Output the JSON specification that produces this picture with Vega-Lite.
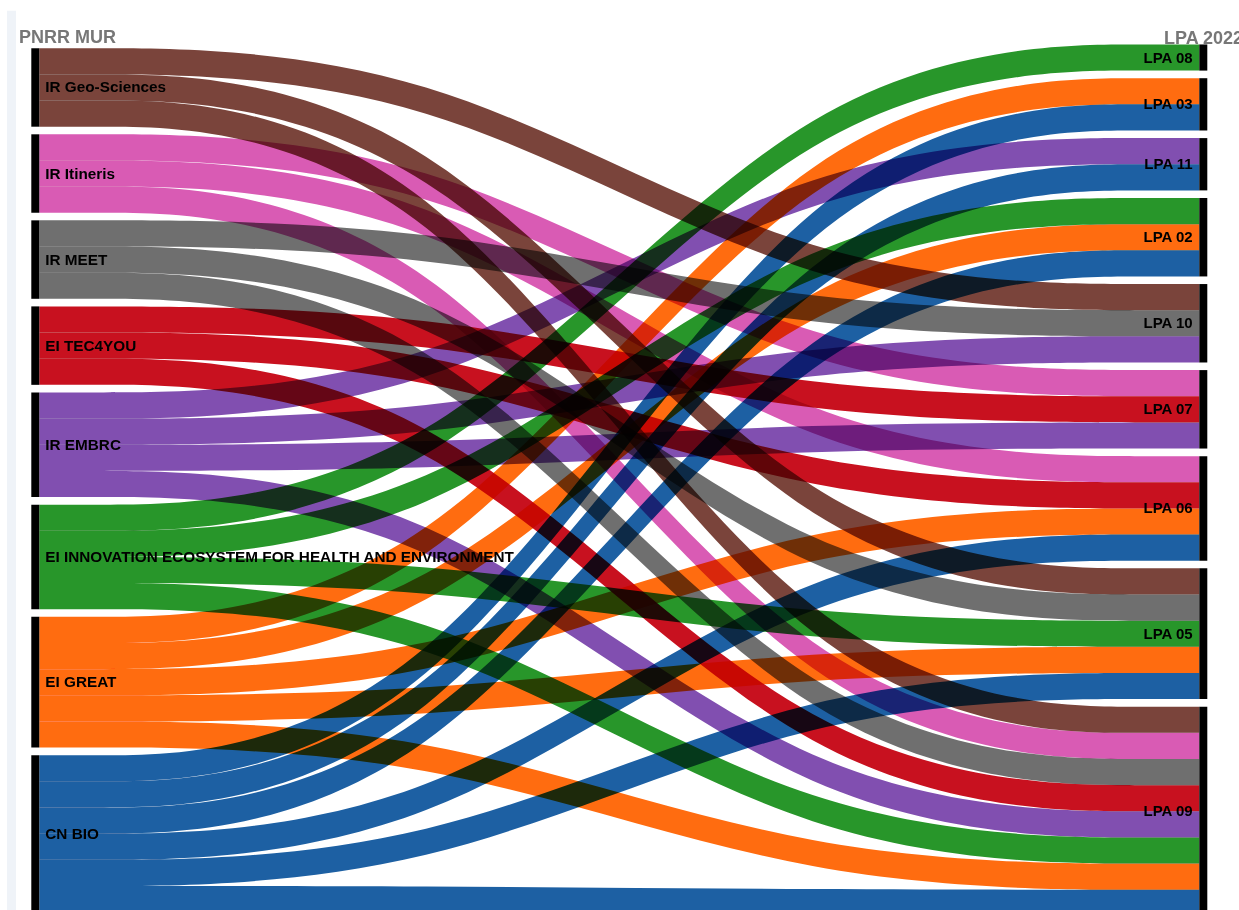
{
  "$schema": "https://vega.github.io/schema/vega-lite/v6.json",
  "width": 1239,
  "height": 910,
  "autosize": "none",
  "padding": 0,
  "background": "white",
  "config": {"view": {"stroke": null}, "font": "Liberation Sans"},
  "data": {
    "values": [
      {"source": "IR Geo-Sciences", "target": "LPA 10", "si": 0, "ti": 4, "value": 1},
      {"source": "IR Geo-Sciences", "target": "LPA 05", "si": 0, "ti": 7, "value": 1},
      {"source": "IR Geo-Sciences", "target": "LPA 09", "si": 0, "ti": 8, "value": 1},
      {"source": "IR Itineris", "target": "LPA 07", "si": 1, "ti": 5, "value": 1},
      {"source": "IR Itineris", "target": "LPA 06", "si": 1, "ti": 6, "value": 1},
      {"source": "IR Itineris", "target": "LPA 09", "si": 1, "ti": 8, "value": 1},
      {"source": "IR MEET", "target": "LPA 10", "si": 2, "ti": 4, "value": 1},
      {"source": "IR MEET", "target": "LPA 05", "si": 2, "ti": 7, "value": 1},
      {"source": "IR MEET", "target": "LPA 09", "si": 2, "ti": 8, "value": 1},
      {"source": "EI TEC4YOU", "target": "LPA 07", "si": 3, "ti": 5, "value": 1},
      {"source": "EI TEC4YOU", "target": "LPA 06", "si": 3, "ti": 6, "value": 1},
      {"source": "EI TEC4YOU", "target": "LPA 09", "si": 3, "ti": 8, "value": 1},
      {"source": "IR EMBRC", "target": "LPA 11", "si": 4, "ti": 2, "value": 1},
      {"source": "IR EMBRC", "target": "LPA 10", "si": 4, "ti": 4, "value": 1},
      {"source": "IR EMBRC", "target": "LPA 07", "si": 4, "ti": 5, "value": 1},
      {"source": "IR EMBRC", "target": "LPA 09", "si": 4, "ti": 8, "value": 1},
      {"source": "EI INNOVATION ECOSYSTEM FOR HEALTH AND ENVIRONMENT", "target": "LPA 08", "si": 5, "ti": 0, "value": 1},
      {"source": "EI INNOVATION ECOSYSTEM FOR HEALTH AND ENVIRONMENT", "target": "LPA 02", "si": 5, "ti": 3, "value": 1},
      {"source": "EI INNOVATION ECOSYSTEM FOR HEALTH AND ENVIRONMENT", "target": "LPA 05", "si": 5, "ti": 7, "value": 1},
      {"source": "EI INNOVATION ECOSYSTEM FOR HEALTH AND ENVIRONMENT", "target": "LPA 09", "si": 5, "ti": 8, "value": 1},
      {"source": "EI GREAT", "target": "LPA 03", "si": 6, "ti": 1, "value": 1},
      {"source": "EI GREAT", "target": "LPA 02", "si": 6, "ti": 3, "value": 1},
      {"source": "EI GREAT", "target": "LPA 06", "si": 6, "ti": 6, "value": 1},
      {"source": "EI GREAT", "target": "LPA 05", "si": 6, "ti": 7, "value": 1},
      {"source": "EI GREAT", "target": "LPA 09", "si": 6, "ti": 8, "value": 1},
      {"source": "CN BIO", "target": "LPA 03", "si": 7, "ti": 1, "value": 1},
      {"source": "CN BIO", "target": "LPA 11", "si": 7, "ti": 2, "value": 1},
      {"source": "CN BIO", "target": "LPA 02", "si": 7, "ti": 3, "value": 1},
      {"source": "CN BIO", "target": "LPA 06", "si": 7, "ti": 6, "value": 1},
      {"source": "CN BIO", "target": "LPA 05", "si": 7, "ti": 7, "value": 1},
      {"source": "CN BIO", "target": "LPA 09", "si": 7, "ti": 8, "value": 1}
    ]
  },
  "transform": [
    {"window": [{"op": "sum", "field": "value", "as": "l1"}], "sort": [{"field": "si", "order": "ascending"}, {"field": "ti", "order": "ascending"}], "frame": [null, 0]},
    {"window": [{"op": "sum", "field": "value", "as": "r1"}], "sort": [{"field": "ti", "order": "ascending"}, {"field": "si", "order": "ascending"}], "frame": [null, 0]},
    {"calculate": "datum.l1 - datum.value + 0.2906 * datum.si + 0.1453", "as": "left"},
    {"calculate": "datum.l1 + 0.2906 * datum.si + 0.1453", "as": "leftEnd"},
    {"calculate": "datum.r1 - datum.value + 0.2906 * datum.ti", "as": "right"},
    {"calculate": "datum.r1 + 0.2906 * datum.ti", "as": "rightEnd"}
  ],
  "layer": [
    {
      "transform": [
        {"calculate": "datum.left", "as": "sL"},
        {"calculate": "datum.left", "as": "sA"},
        {"calculate": "datum.right", "as": "sB"},
        {"calculate": "datum.right", "as": "sR"},
        {"fold": ["sL", "sA", "sB", "sR"], "as": ["key", "top"]},
        {"calculate": "datum.top + datum.value", "as": "bottom"},
        {"calculate": "datum.key == 'sL' ? 0 : (datum.key == 'sA' ? 1 : (datum.key == 'sB' ? 2 : 3))", "as": "k"}
      ],
      "mark": {"type": "area", "interpolate": "basis", "blend": "multiply"},
      "encoding": {
        "x": {
          "field": "k",
          "type": "quantitative",
          "scale": {"domain": [-0.10164, 3.10268], "zero": false, "nice": false, "padding": 0},
          "axis": null
        },
        "y": {
          "field": "top",
          "type": "quantitative",
          "scale": {"domain": [-1.7, 33.1], "reverse": true, "zero": false, "nice": false, "padding": 0},
          "axis": null
        },
        "y2": {"field": "bottom"},
        "detail": {"field": "target", "type": "nominal"},
        "color": {
          "field": "source",
          "type": "nominal",
          "scale": {
            "domain": ["IR Geo-Sciences", "IR Itineris", "IR MEET", "EI TEC4YOU", "IR EMBRC", "EI INNOVATION ECOSYSTEM FOR HEALTH AND ENVIRONMENT", "EI GREAT", "CN BIO"],
            "range": ["#7a443b", "#d95bb4", "#6f6f6f", "#c8111f", "#814fb0", "#28962a", "#ff6c10", "#1d60a3"]
          },
          "legend": null
        }
      }
    },
    {
      "transform": [
        {"aggregate": [{"op": "min", "field": "left", "as": "y0"}, {"op": "max", "field": "rightEnd", "as": "y1"}]},
        {"calculate": "datum.y0 - 1.43", "as": "ys"},
        {"calculate": "0", "as": "xk"}
      ],
      "mark": {"type": "bar", "width": 9, "xOffset": -27.8, "color": "#eff3f8"},
      "encoding": {
        "x": {"field": "xk", "type": "quantitative", "scale": {"padding": 0}},
        "y": {"field": "ys", "type": "quantitative"},
        "y2": {"field": "y1"}
      }
    },
    {
      "transform": [
        {"aggregate": [{"op": "min", "field": "left", "as": "y0"}, {"op": "max", "field": "leftEnd", "as": "y1"}], "groupby": ["source"]},
        {"calculate": "0", "as": "xk"}
      ],
      "mark": {"type": "bar", "width": 8, "xOffset": -4, "color": "black"},
      "encoding": {
        "x": {"field": "xk", "type": "quantitative", "scale": {"padding": 0}},
        "y": {"field": "y0", "type": "quantitative"},
        "y2": {"field": "y1"}
      }
    },
    {
      "transform": [
        {"aggregate": [{"op": "min", "field": "right", "as": "y0"}, {"op": "max", "field": "rightEnd", "as": "y1"}], "groupby": ["target"]},
        {"calculate": "3", "as": "xk"}
      ],
      "mark": {"type": "bar", "width": 8, "xOffset": 4, "color": "black"},
      "encoding": {
        "x": {"field": "xk", "type": "quantitative", "scale": {"padding": 0}},
        "y": {"field": "y0", "type": "quantitative"},
        "y2": {"field": "y1"}
      }
    },
    {
      "transform": [
        {"aggregate": [{"op": "min", "field": "left", "as": "y0"}, {"op": "max", "field": "leftEnd", "as": "y1"}], "groupby": ["source"]},
        {"calculate": "(datum.y0 + datum.y1) / 2", "as": "mid"},
        {"calculate": "0", "as": "xk"}
      ],
      "mark": {"type": "text", "align": "left", "baseline": "middle", "dx": 6, "fontSize": 15.3, "fontWeight": "bold", "color": "black", "font": "Liberation Sans"},
      "encoding": {
        "x": {"field": "xk", "type": "quantitative"},
        "y": {"field": "mid", "type": "quantitative"},
        "text": {"field": "source", "type": "nominal"}
      }
    },
    {
      "transform": [
        {"aggregate": [{"op": "min", "field": "right", "as": "y0"}, {"op": "max", "field": "rightEnd", "as": "y1"}], "groupby": ["target"]},
        {"calculate": "(datum.y0 + datum.y1) / 2", "as": "mid"},
        {"calculate": "3", "as": "xk"}
      ],
      "mark": {"type": "text", "align": "right", "baseline": "middle", "dx": -6.6, "fontSize": 15, "fontWeight": "bold", "color": "black", "font": "Liberation Sans"},
      "encoding": {
        "x": {"field": "xk", "type": "quantitative"},
        "y": {"field": "mid", "type": "quantitative"},
        "text": {"field": "target", "type": "nominal"}
      }
    },
    {
      "transform": [
        {"aggregate": [{"op": "min", "field": "left", "as": "y0"}]},
        {"calculate": "0", "as": "xk"},
        {"calculate": "'PNRR MUR'", "as": "dim"}
      ],
      "mark": {"type": "text", "align": "left", "baseline": "alphabetic", "dx": -20.3, "dy": -5.6, "fontSize": 18, "fontWeight": "bold", "color": "#777777", "font": "Liberation Sans"},
      "encoding": {
        "x": {"field": "xk", "type": "quantitative"},
        "y": {"field": "y0", "type": "quantitative"},
        "text": {"field": "dim", "type": "nominal"}
      }
    },
    {
      "transform": [
        {"aggregate": [{"op": "min", "field": "right", "as": "y0"}]},
        {"calculate": "3", "as": "xk"},
        {"calculate": "'LPA 2022'", "as": "dim"}
      ],
      "mark": {"type": "text", "align": "left", "baseline": "alphabetic", "dx": -35.3, "dy": -4.5, "fontSize": 18, "fontWeight": "bold", "color": "#777777", "font": "Liberation Sans"},
      "encoding": {
        "x": {"field": "xk", "type": "quantitative"},
        "y": {"field": "y0", "type": "quantitative"},
        "text": {"field": "dim", "type": "nominal"}
      }
    }
  ]
}
